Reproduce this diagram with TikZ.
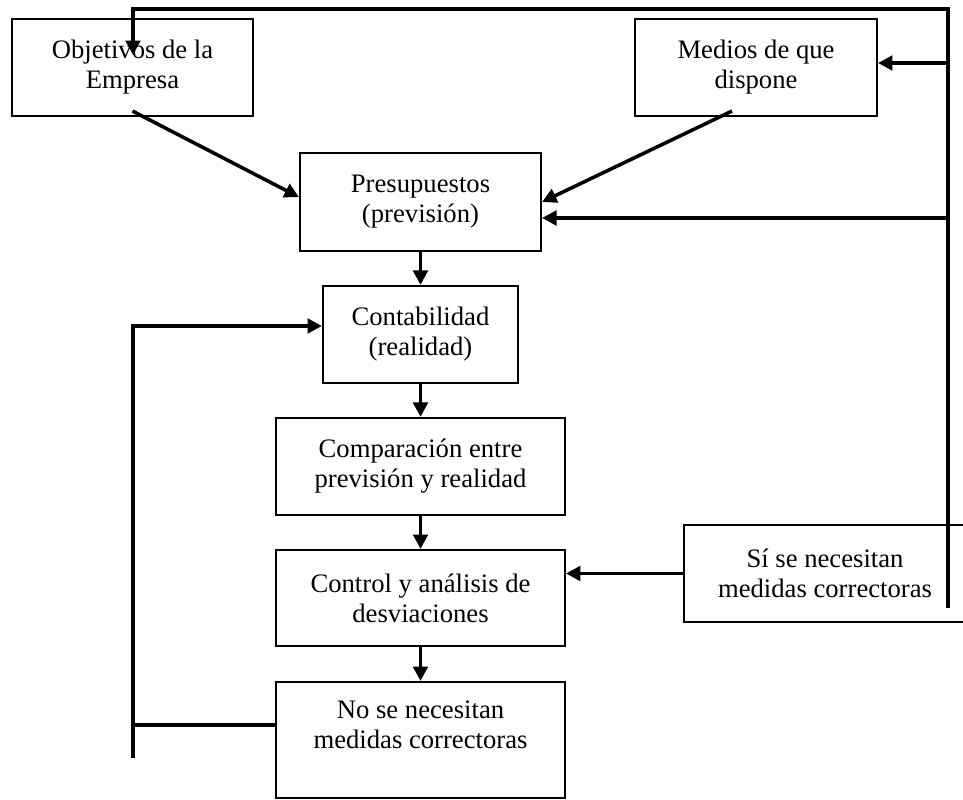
\documentclass[tikz,border=0pt]{standalone}
\usepackage{fontspec}
\setmainfont{Liberation Serif}
\usetikzlibrary{arrows.meta}

\begin{document}
\begin{tikzpicture}[x=0.45pt,y=-0.45pt]
    % Definición estilos
    \tikzset{caja/.style={draw, line width=0.9pt, align=center, inner sep=0pt, minimum height=43.7pt, font=\fontsize{12pt}{13.5pt}\selectfont}}
    \tikzstyle{flecha}=[-{Triangle[length=6.5pt,width=6.5pt]}, line width=1.6pt]
    \tikzstyle{linea}=[line width=1.6pt]

    \useasboundingbox (0,0) rectangle (963,800);

    % Cajas superiores
    \node[caja, minimum width=108.5pt] (obj) at (132.5,67.5) {Objetivos de la\\Empresa};
    \node[caja, minimum width=108.9pt] (med) at (756,67.5) {Medios de que\\dispone};
    \node[caja, minimum width=108.5pt, minimum height=44.1pt] (pres) at (420.5,202) {Presupuestos\\(previsión)};

    % Cajas centrales
    \node[caja, minimum width=87.8pt] (cont) at (420.5,334.5) {Contabilidad\\(realidad)};
    \node[caja, minimum width=130pt] (comp) at (420.5,466.5) {Comparación entre\\previsión y realidad};
    \node[caja, minimum width=130pt, minimum height=43.2pt] (ctrl) at (420.5,598) {Control y análisis de\\desviaciones};
    \node[caja, minimum width=130pt, minimum height=52.2pt] (no) at (420.5,740) {No se necesitan\\medidas correctoras\\\mbox{}};
    \node[caja, minimum width=126.5pt] (si) at (825,573.5) {Sí se necesitan\\medidas correctoras};

    % Puntos de los retornos
    \coordinate (rb) at (948,608);
    \coordinate (tr) at (948,9);
    \coordinate (tl) at (133,9);
    \coordinate (objin) at (133,55);
    \coordinate (rmed) at (948,63);
    \coordinate (rpres) at (948,218);
    \coordinate (lb) at (133,758);
    \coordinate (lt) at (133,326);
    \coordinate (lm) at (133,725);

    % Conexiones
    \draw[flecha] (rb) -- (tr) -- (tl) -- (objin);
    \draw[flecha] (rmed) -- (med.east |- rmed);
    \draw[flecha] (rpres) -- (pres.east |- rpres);
    \draw[flecha] ([yshift=2.7pt]obj.south) -- ([yshift=2.2pt]pres.west);
    \draw[flecha] ([xshift=-10.8pt,yshift=2.7pt]med.south) -- (pres.east);

    \draw[flecha] (pres) -- (cont);
    \draw[flecha] (cont) -- (comp);
    \draw[flecha] (comp) -- (ctrl);
    \draw[flecha] (ctrl) -- (no);
    \draw[flecha] (si.west) -- (ctrl.east |- si.west);

    \draw[flecha] (lb) -- (lt) -- (cont.west |- lt);
    \draw[linea] (no.west |- lm) -- (lm);
\end{tikzpicture}
\end{document}
